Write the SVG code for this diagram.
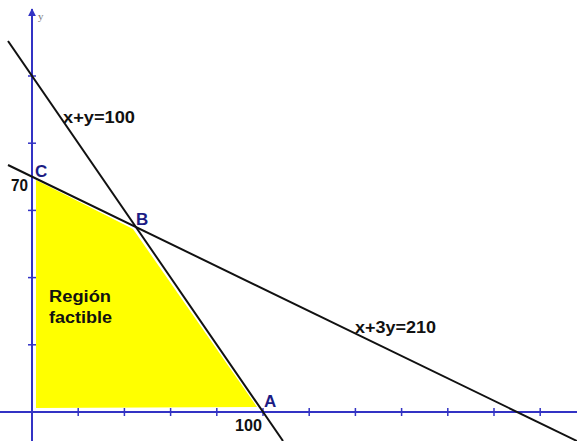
<svg xmlns="http://www.w3.org/2000/svg" width="577" height="441" viewBox="0 0 577 441">
<style>
.axis{stroke:#3333c4;stroke-width:2;fill:none}
.tick{stroke:#3333c4;stroke-width:1.5}
.line{stroke:#111;stroke-width:2;fill:none}
.lbl{font-family:"Liberation Sans",Arial,sans-serif;font-weight:bold;font-size:16px;fill:#111}
.pt{font-family:"Liberation Sans",Arial,sans-serif;font-weight:bold;font-size:17px;fill:#1c1c84}
</style>
<defs>
<marker id="arr" viewBox="0 0 10 10" refX="9" refY="5" markerWidth="4" markerHeight="4" orient="auto">
<path d="M0,0 L10,5 L0,10 z" fill="#3333c4"/>
</marker>
</defs>
<rect width="577" height="441" fill="#fff"/>
<g id="region">
<polygon points="36,180 133,229 257,407 36,408" fill="#ffff00"/>
<text class="lbl" x="49" y="302" textLength="62" lengthAdjust="spacingAndGlyphs">Región</text>
<text class="lbl" x="49" y="323" textLength="63" lengthAdjust="spacingAndGlyphs">factible</text>
</g>
<g id="axes">
<line class="axis" x1="0" y1="412" x2="577" y2="412"/>
<line class="axis" x1="32" y1="441" x2="32" y2="9" marker-end="url(#arr)"/>
<g class="tick">
<line x1="28" y1="76" x2="36" y2="76"/>
<line x1="28" y1="143.2" x2="36" y2="143.2"/>
<line x1="28" y1="210.4" x2="36" y2="210.4"/>
<line x1="28" y1="277.6" x2="36" y2="277.6"/>
<line x1="28" y1="344.8" x2="36" y2="344.8"/>
<line x1="78.2" y1="408" x2="78.2" y2="416"/>
<line x1="124.4" y1="408" x2="124.4" y2="416"/>
<line x1="170.6" y1="408" x2="170.6" y2="416"/>
<line x1="216.8" y1="408" x2="216.8" y2="416"/>
<line x1="263" y1="408" x2="263" y2="416"/>
<line x1="309.2" y1="408" x2="309.2" y2="416"/>
<line x1="355.4" y1="408" x2="355.4" y2="416"/>
<line x1="401.6" y1="408" x2="401.6" y2="416"/>
<line x1="447.8" y1="408" x2="447.8" y2="416"/>
<line x1="494" y1="408" x2="494" y2="416"/>
<line x1="540.2" y1="408" x2="540.2" y2="416"/>
</g>
<text x="38" y="20" font-family="Liberation Serif,serif" font-size="11" fill="#777">y</text>
</g>
<g id="connectors">
<line class="line" x1="8" y1="41" x2="283" y2="441"/>
<line class="line" x1="8" y1="165" x2="577" y2="441"/>
</g>
<g id="labels">
<text class="lbl" x="63" y="123" textLength="72" lengthAdjust="spacingAndGlyphs">x+y=100</text>
<text class="lbl" x="355" y="333" textLength="81" lengthAdjust="spacingAndGlyphs">x+3y=210</text>
<text class="lbl" x="11" y="191" textLength="17" lengthAdjust="spacingAndGlyphs">70</text>
<text class="lbl" x="235" y="431" textLength="27" lengthAdjust="spacingAndGlyphs">100</text>
</g>
<g id="C"><text class="pt" x="35" y="177">C</text></g>
<g id="B"><text class="pt" x="136" y="225">B</text></g>
<g id="A"><text class="pt" x="264" y="407">A</text></g>
</svg>
